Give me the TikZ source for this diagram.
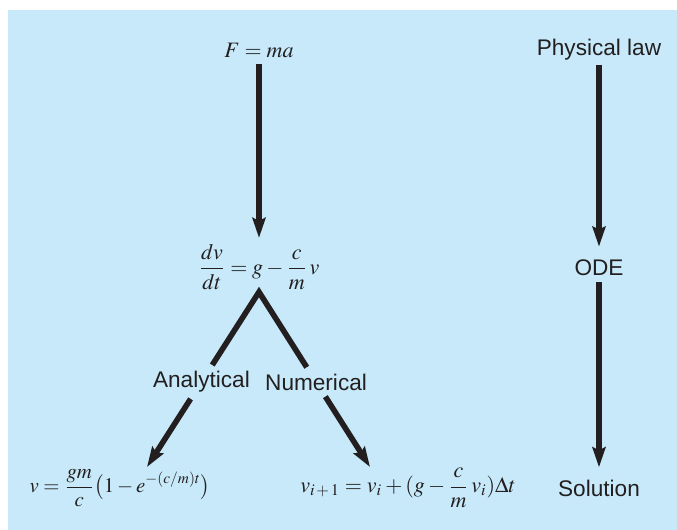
\documentclass[tikz,border=0pt]{standalone}
\usepackage{mathptmx}
\usepackage[no-math]{fontspec}
\setmainfont{Liberation Serif}
\setsansfont{Liberation Sans}
\usepackage{tikz}
\usepackage{xcolor}
\definecolor{vizPanel}{HTML}{C7E9F9}
\definecolor{vizInk}{HTML}{231F20}
\usetikzlibrary{arrows.meta}

\begin{document}
\begin{tikzpicture}[x=0.5pt, y=-0.5pt,
    eqn/.style={inner sep=3pt, text=vizInk, font=\fontsize{11}{13}\selectfont},
    lbl/.style={inner sep=2pt, text=vizInk, font=\fontsize{11.3}{13}\selectfont\sffamily},
    gap/.style={lbl, fill=vizPanel, inner sep=3pt},
    stem/.style={draw=vizInk, line width=2.8pt},
    arr/.style={stem, -{Stealth[length=10pt, width=6.5pt, inset=1.5pt]}}]
  \useasboundingbox (0,0) rectangle (677,530);
  \filldraw[fill=vizPanel, draw=none] (8,10) rectangle (677,530);
  % equations
  \node[eqn] (fma) at (259,50) {$F = ma$};
  \node[eqn] (ode) at (259,267) {$\displaystyle \frac{dv}{dt} = g - \frac{c}{m}\,v$};
  \node[eqn, font=\fontsize{10.4}{12}\selectfont] (exact) at (120,488) {$\displaystyle v = \frac{gm}{c}\bigl(1 - e^{-(c/m)t}\bigr)$};
  \node[eqn] (euler) at (408,488) {$\displaystyle v_{i\,+\,1} = v_i + (g - \frac{c}{m}\,v_i)\Delta t$};
  \coordinate (apex) at (259,292);
  \coordinate (tipL) at (147,467);
  \coordinate (tipR) at (370,467);
  \path (apex) -- (tipL) node[gap, pos=0.514] (ana) {Analytical};
  \path (apex) -- (tipR) node[gap, pos=0.514] (num) {Numerical};
  \draw[arr] (fma) -- (ode);
  \draw[stem] (ana) -- (apex) -- (num);
  \draw[arr] (ana) -- (tipL);
  \draw[arr] (num) -- (tipR);
  % right column
  \node[lbl] (law) at (599,50) {Physical law};
  \node[lbl] (odeLbl) at (599,268) {ODE};
  \node[lbl] (sol) at (599,488) {Solution};
  \draw[arr, shorten >=4.5pt] (law) -- (odeLbl);
  \draw[arr, shorten <=1pt, shorten >=4pt] (odeLbl) -- (sol);
\end{tikzpicture}
\end{document}
